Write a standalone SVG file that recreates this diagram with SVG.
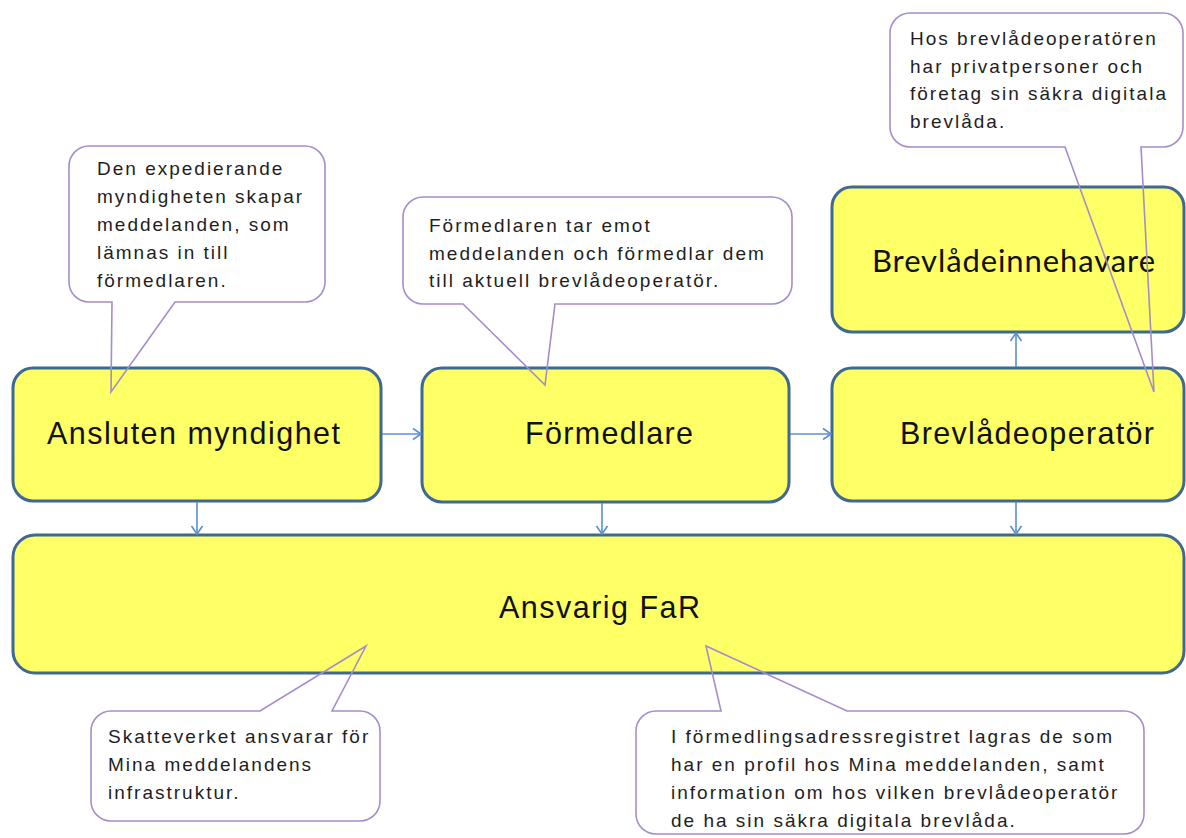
<svg xmlns="http://www.w3.org/2000/svg" width="1186" height="838" viewBox="0 0 1186 838">
<style>
.box{fill:#ffff66;stroke:#3f6893;stroke-width:3}
.lbl{font-family:"Liberation Sans",Arial,sans-serif;font-size:30.5px;fill:#111}
.lbl2{font-family:Lato,"Open Sans",sans-serif;font-size:31px;fill:#111}
.co{fill:none;stroke:#a58ccb;stroke-width:1.6;stroke-linejoin:miter}
.ct{font-family:"Liberation Sans",Arial,sans-serif;font-size:19px;letter-spacing:2px;fill:#1e1e1e}
.cn{stroke:#5b8fd0;stroke-width:1.6;fill:none}
</style>
<defs>
<marker id="arr" markerUnits="userSpaceOnUse" markerWidth="12" markerHeight="14" refX="9" refY="6" orient="auto" viewBox="0 0 12 12">
<path d="M1,0.5 L9,6 L1,11.5" fill="none" stroke="#5b8fd0" stroke-width="1.6"/>
</marker>
</defs>
<rect width="1186" height="838" fill="#ffffff"/>

<g id="node-ansluten">
<rect class="box" x="13" y="368" width="368" height="133" rx="20"/>
<text class="lbl" x="47" y="444" textLength="293" lengthAdjust="spacing">Ansluten myndighet</text>
</g>
<g id="node-formedlare">
<rect class="box" x="422" y="368" width="367" height="134" rx="20"/>
<text class="lbl" x="525" y="444" textLength="168" lengthAdjust="spacing">Förmedlare</text>
</g>
<g id="node-brevladeoperator">
<rect class="box" x="832" y="368" width="352" height="133" rx="20"/>
<text class="lbl" x="900" y="444" textLength="254" lengthAdjust="spacing">Brevlådeoperatör</text>
</g>
<g id="node-brevladeinnehavare">
<rect class="box" x="832" y="187" width="352" height="145" rx="20"/>
<text class="lbl2" x="872" y="272" textLength="283" lengthAdjust="spacing">Brevlådeinnehavare</text>
</g>
<g id="node-ansvarig">
<rect class="box" x="13" y="535" width="1171" height="138" rx="22"/>
<text class="lbl" x="499" y="618" textLength="201" lengthAdjust="spacing">Ansvarig FaR</text>
</g>

<g id="connectors">
<line class="cn" x1="382" y1="434" x2="421" y2="434" marker-end="url(#arr)"/>
<line class="cn" x1="790" y1="434" x2="831" y2="434" marker-end="url(#arr)"/>
<line class="cn" x1="1016" y1="367" x2="1016" y2="333" marker-end="url(#arr)"/>
<line class="cn" x1="197" y1="502" x2="197" y2="534" marker-end="url(#arr)"/>
<line class="cn" x1="602" y1="503" x2="602" y2="534" marker-end="url(#arr)"/>
<line class="cn" x1="1016" y1="502" x2="1016" y2="534" marker-end="url(#arr)"/>
</g>

<g id="callout-expedierande">
<path class="co" d="M89,146 H305 A20,20 0 0 1 325,166 V282 A20,20 0 0 1 305,302 H175 L111,392 L112,302 H89 A20,20 0 0 1 69,282 V166 A20,20 0 0 1 89,146 Z"/>
<text class="ct" x="97" y="175">Den expedierande</text>
<text class="ct" x="97" y="203">myndigheten skapar</text>
<text class="ct" x="97" y="231">meddelanden, som</text>
<text class="ct" x="97" y="259">lämnas in till</text>
<text class="ct" x="97" y="287">förmedlaren.</text>
</g>
<g id="callout-formedlaren">
<path class="co" d="M423,197 H772 A20,20 0 0 1 792,217 V284 A20,20 0 0 1 772,304 H555 L545,385 L463,304 H423 A20,20 0 0 1 403,284 V217 A20,20 0 0 1 423,197 Z"/>
<text class="ct" x="429" y="232">Förmedlaren tar emot</text>
<text class="ct" x="429" y="260">meddelanden och förmedlar dem</text>
<text class="ct" x="429" y="287">till aktuell brevlådeoperatör.</text>
</g>
<g id="callout-hos">
<path class="co" d="M910,13 H1163 A20,20 0 0 1 1183,33 V127 A20,20 0 0 1 1163,147 H1141 L1154,392 L1065,147 H910 A20,20 0 0 1 890,127 V33 A20,20 0 0 1 910,13 Z"/>
<text class="ct" x="910" y="45">Hos brevlådeoperatören</text>
<text class="ct" x="910" y="73">har privatpersoner och</text>
<text class="ct" x="910" y="100">företag sin säkra digitala</text>
<text class="ct" x="910" y="128">brevlåda.</text>
</g>
<g id="callout-skatteverket">
<path class="co" d="M111,711 H260 L366,646 L332,711 H360 A20,20 0 0 1 380,731 V801 A20,20 0 0 1 360,821 H111 A20,20 0 0 1 91,801 V731 A20,20 0 0 1 111,711 Z"/>
<text class="ct" x="108" y="743">Skatteverket ansvarar för</text>
<text class="ct" x="108" y="771">Mina meddelandens</text>
<text class="ct" x="108" y="799">infrastruktur.</text>
</g>
<g id="callout-register">
<path class="co" d="M656,711 H721 L706,646 L847,711 H1124 A20,20 0 0 1 1144,731 V814 A20,20 0 0 1 1124,834 H656 A20,20 0 0 1 636,814 V731 A20,20 0 0 1 656,711 Z"/>
<text class="ct" x="671" y="743">I förmedlingsadressregistret lagras de som</text>
<text class="ct" x="671" y="771">har en profil hos Mina meddelanden, samt</text>
<text class="ct" x="671" y="799">information om hos vilken brevlådeoperatör</text>
<text class="ct" x="671" y="827">de ha sin säkra digitala brevlåda.</text>
</g>
</svg>
